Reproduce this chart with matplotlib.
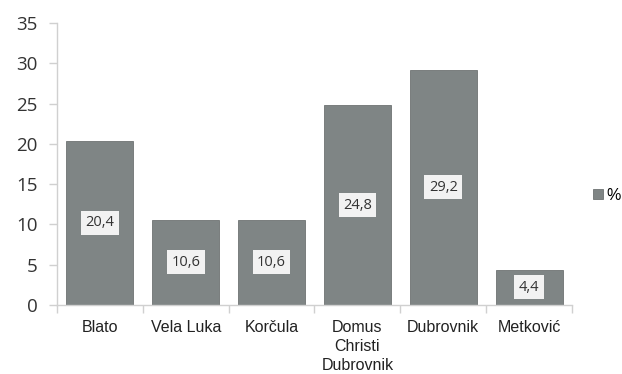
import matplotlib
matplotlib.use('Agg')
import matplotlib.pyplot as plt

towns = ['Blato', 'Vela Luka', 'Korčula', 'Domus\nChristi\nDubrovnik', 'Dubrovnik', 'Metković']
percent = [20.4, 10.6, 10.6, 24.8, 29.2, 4.4]
value_labels = ['20,4', '10,6', '10,6', '24,8', '29,2', '4,4']

bar_color = '#7f8585'
spine_color = '#d0d0d0'

fig = plt.figure(figsize=(6.22, 3.74), dpi=100)
ax = fig.add_axes([0.0916, 0.1845, 0.828, 0.754])

x = list(range(len(towns)))
bars = ax.bar(x, percent, width=0.78, color=bar_color, edgecolor='#6e7373', linewidth=0.6, label='%')

for xi, v, lab in zip(x, percent, value_labels):
    ax.text(xi, v / 2, lab, ha='center', va='center', fontsize=10.5, family='Open Sans', color='#333333',
            bbox=dict(boxstyle='square,pad=0.3', facecolor='#f2f2f2', edgecolor='none'))

ax.set_xlim(-0.5, len(towns) - 0.5)
ax.set_ylim(0, 35)
ax.set_yticks(range(0, 36, 5))
ax.tick_params(axis='y', labelsize=13.5, colors=spine_color, labelcolor='#333333', length=6, width=1, pad=8)
for t in ax.get_yticklabels():
    t.set_family('Open Sans')

# category ticks between bars, labels at centers
ax.set_xticks([i - 0.5 for i in range(len(towns) + 1)])
ax.set_xticklabels([])
ax.set_xticks(x, minor=True)
ax.set_xticklabels(towns, minor=True, fontsize=11.5, family='Liberation Sans', color='#222222', va='top',
                   linespacing=1.33)
ax.tick_params(axis='x', which='major', colors=spine_color, length=6, width=1)
ax.tick_params(axis='x', which='minor', length=0, pad=11)

for side in ['top', 'right']:
    ax.spines[side].set_visible(False)
for side in ['left', 'bottom']:
    ax.spines[side].set_color(spine_color)
    ax.spines[side].set_linewidth(1)

ax.legend(loc='center left', bbox_to_anchor=(1.019, 0.39), frameon=False, handlelength=0.6, handleheight=0.6,
          handletextpad=0.25, borderaxespad=0.3, prop={'family': 'Liberation Sans', 'size': 11.5})

fig.savefig('out.png', dpi=100)
